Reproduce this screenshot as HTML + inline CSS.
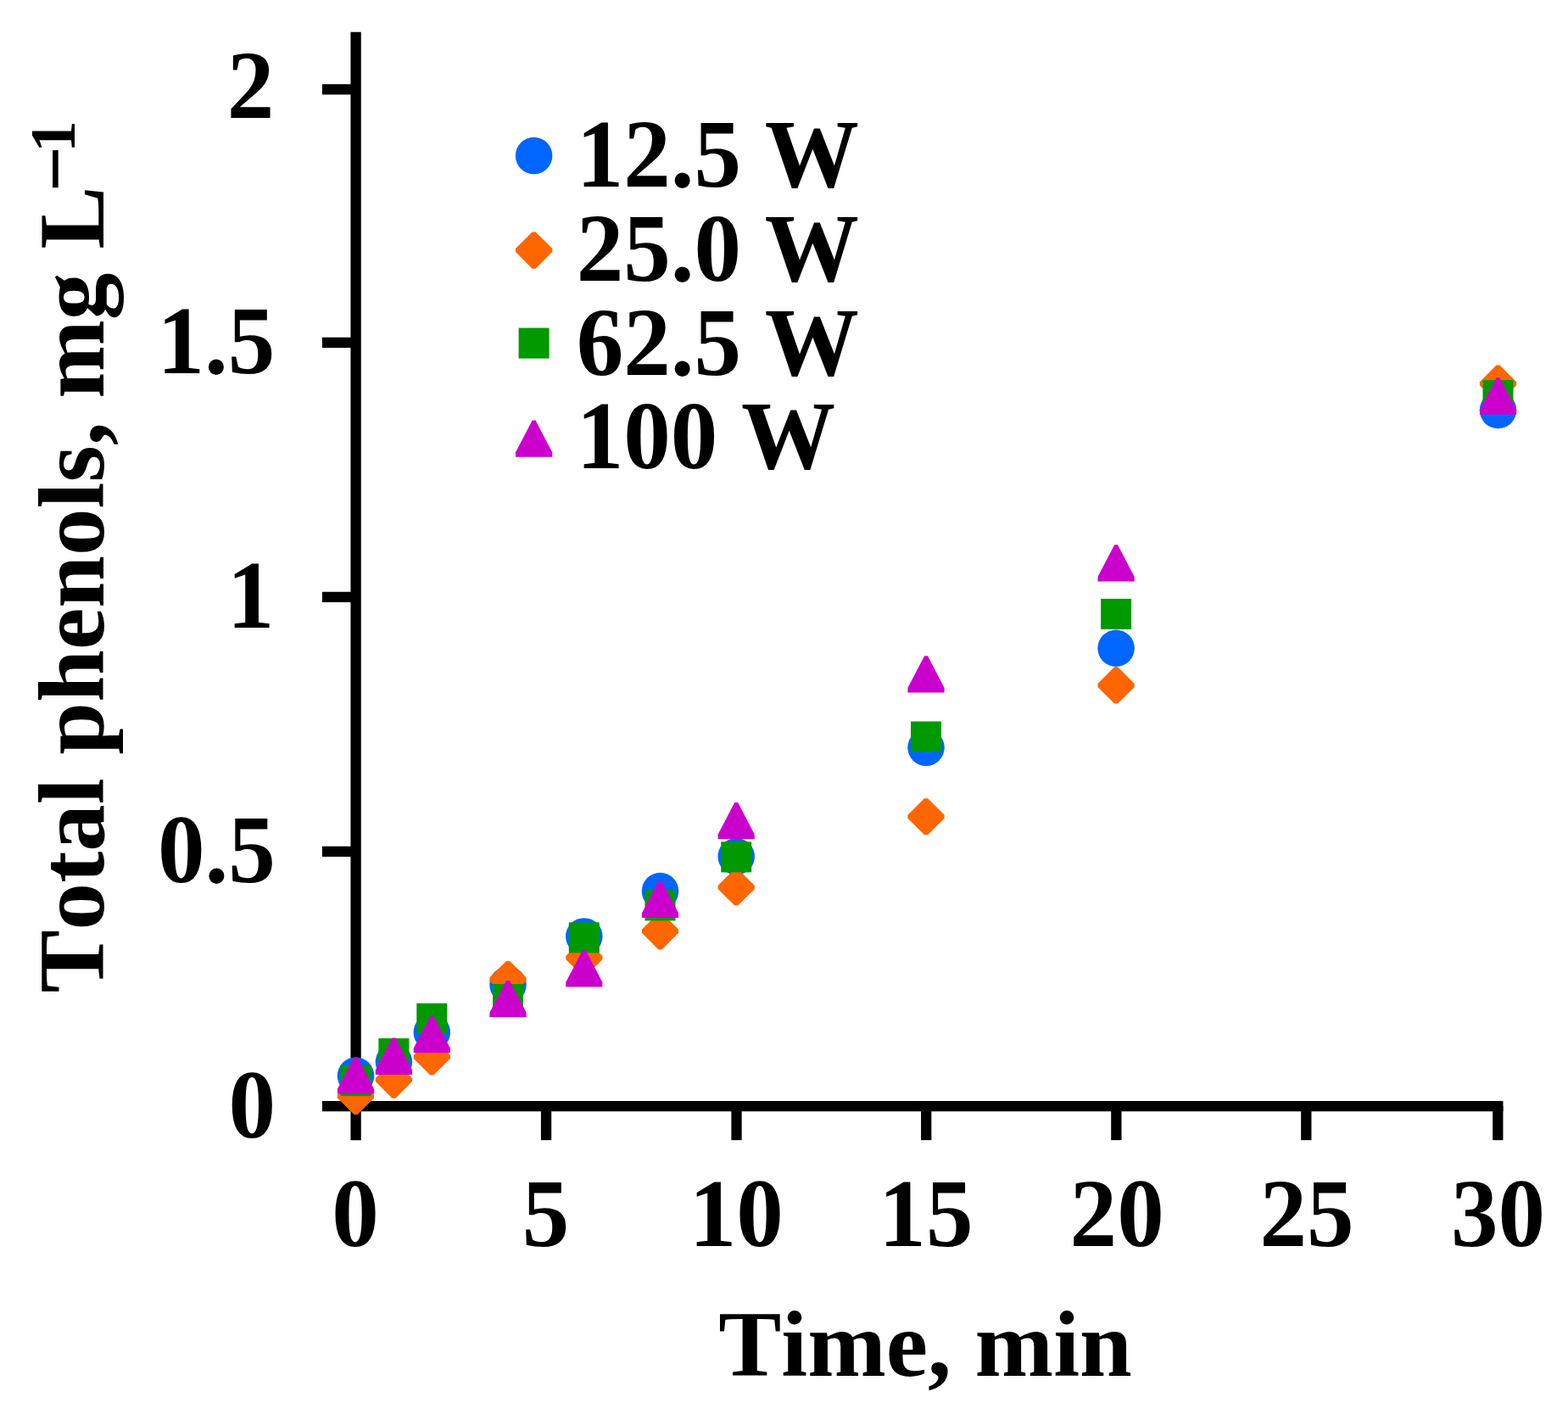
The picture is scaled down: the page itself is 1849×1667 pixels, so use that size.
<!DOCTYPE html>
<html lang="en">
<head>
<meta charset="utf-8">
<title>Total phenols vs time</title>
<style>
html,body{margin:0;padding:0;background:#fff;}
body{width:1849px;height:1667px;overflow:hidden;}
svg{display:block;}
text{font-family:"Liberation Serif","DejaVu Serif",serif;font-weight:bold;font-size:111.11px;fill:#000;font-kerning:none;font-feature-settings:"kern" 0,"liga" 0;}
.ax{stroke:#000;stroke-width:12.30;fill:none;stroke-linecap:butt;}
</style>
</head>
<body>
<svg width="1849" height="1667" viewBox="0 0 1849 1667">
<rect width="1849" height="1667" fill="#fff"/>
<g class="ax">
<path d="M419.60 37.8V1344.15"/>
<path d="M379.90 1304.05H1772.45"/>
<path d="M379.90 1003.85H419.60"/>
<path d="M379.90 703.80H419.60"/>
<path d="M379.90 403.90H419.60"/>
<path d="M379.90 105.35H419.60"/>
<path d="M644.05 1304.05V1344.15"/>
<path d="M868.50 1304.05V1344.15"/>
<path d="M1092.20 1304.05V1344.15"/>
<path d="M1316.35 1304.05V1344.15"/>
<path d="M1540.30 1304.05V1344.15"/>
<path d="M1766.30 1304.05V1344.15"/>
</g>
<g>
<text transform="translate(325.00 1341.20) scale(1 1.02)" text-anchor="end">0</text>
<text transform="translate(324.80 1040.40) scale(1 1.02)" text-anchor="end">0.5</text>
<text transform="translate(323.40 739.90) scale(1 1.02)" text-anchor="end">1</text>
<text transform="translate(324.40 440.00) scale(1 1.02)" text-anchor="end">1.5</text>
<text transform="translate(323.40 139.30) scale(1 1.02)" text-anchor="end">2</text>
</g>
<g>
<text transform="translate(418.90 1469.40) scale(1 1.02)" text-anchor="middle">0</text>
<text transform="translate(643.55 1469.40) scale(1 1.02)" text-anchor="middle">5</text>
<text transform="translate(868.20 1469.40) scale(1 1.02)" text-anchor="middle">10</text>
<text transform="translate(1091.90 1469.40) scale(1 1.02)" text-anchor="middle">15</text>
<text transform="translate(1317.15 1469.40) scale(1 1.02)" text-anchor="middle">20</text>
<text transform="translate(1541.10 1469.40) scale(1 1.02)" text-anchor="middle">25</text>
<text transform="translate(1766.50 1469.40) scale(1 1.02)" text-anchor="middle">30</text>
<text transform="translate(1091.00 1621.70) scale(1 1.0)" text-anchor="middle">Time, min</text>
</g>
<g>
<text transform="translate(121.6 1170.5) rotate(-90)">Total phenols, mg L<tspan x="944.15" y="-24.2" style="font-size:95px">−</tspan><tspan x="990.85" y="-33.3" style="font-size:75.4px">1</tspan></text>
</g>
<g>
<circle cx="419.50" cy="1268.20" r="21.75" fill="#0066ff"/>
<circle cx="464.40" cy="1252.00" r="21.75" fill="#0066ff"/>
<circle cx="509.30" cy="1217.00" r="21.75" fill="#0066ff"/>
<circle cx="599.00" cy="1161.00" r="21.75" fill="#0066ff"/>
<circle cx="688.80" cy="1103.90" r="21.75" fill="#0066ff"/>
<circle cx="778.50" cy="1050.60" r="21.75" fill="#0066ff"/>
<circle cx="868.20" cy="1009.75" r="21.75" fill="#0066ff"/>
<circle cx="1092.00" cy="881.30" r="21.75" fill="#0066ff"/>
<circle cx="1316.10" cy="764.25" r="21.75" fill="#0066ff"/>
<circle cx="1766.50" cy="483.50" r="21.75" fill="#0066ff"/>
<polygon points="417.50,1270.90 421.50,1270.90 441.10,1290.50 441.10,1294.50 421.50,1314.10 417.50,1314.10 397.90,1294.50 397.90,1290.50" fill="#ff6600"/>
<polygon points="462.40,1251.50 466.40,1251.50 486.00,1271.10 486.00,1275.10 466.40,1294.70 462.40,1294.70 442.80,1275.10 442.80,1271.10" fill="#ff6600"/>
<polygon points="507.30,1224.30 511.30,1224.30 530.90,1243.90 530.90,1247.90 511.30,1267.50 507.30,1267.50 487.70,1247.90 487.70,1243.90" fill="#ff6600"/>
<polygon points="597.00,1133.00 601.00,1133.00 620.60,1152.60 620.60,1156.60 601.00,1176.20 597.00,1176.20 577.40,1156.60 577.40,1152.60" fill="#ff6600"/>
<polygon points="686.80,1107.50 690.80,1107.50 710.40,1127.10 710.40,1131.10 690.80,1150.70 686.80,1150.70 667.20,1131.10 667.20,1127.10" fill="#ff6600"/>
<polygon points="776.50,1076.20 780.50,1076.20 800.10,1095.80 800.10,1099.80 780.50,1119.40 776.50,1119.40 756.90,1099.80 756.90,1095.80" fill="#ff6600"/>
<polygon points="866.20,1024.40 870.20,1024.40 889.80,1044.00 889.80,1048.00 870.20,1067.60 866.20,1067.60 846.60,1048.00 846.60,1044.00" fill="#ff6600"/>
<polygon points="1090.00,941.15 1094.00,941.15 1113.60,960.75 1113.60,964.75 1094.00,984.35 1090.00,984.35 1070.40,964.75 1070.40,960.75" fill="#ff6600"/>
<polygon points="1314.10,786.30 1318.10,786.30 1337.70,805.90 1337.70,809.90 1318.10,829.50 1314.10,829.50 1294.50,809.90 1294.50,805.90" fill="#ff6600"/>
<polygon points="1764.50,430.60 1768.50,430.60 1788.10,450.20 1788.10,454.20 1768.50,473.80 1764.50,473.80 1744.90,454.20 1744.90,450.20" fill="#ff6600"/>
<rect x="401.50" y="1256.20" width="36.00" height="36.00" fill="#009900"/>
<rect x="446.40" y="1224.10" width="36.00" height="36.00" fill="#009900"/>
<rect x="491.30" y="1182.80" width="36.00" height="36.00" fill="#009900"/>
<rect x="581.00" y="1160.00" width="36.00" height="36.00" fill="#009900"/>
<rect x="670.80" y="1087.40" width="36.00" height="36.00" fill="#009900"/>
<rect x="760.50" y="1049.40" width="36.00" height="36.00" fill="#009900"/>
<rect x="850.20" y="992.40" width="36.00" height="36.00" fill="#009900"/>
<rect x="1074.00" y="850.50" width="36.00" height="36.00" fill="#009900"/>
<rect x="1298.10" y="705.90" width="36.00" height="36.00" fill="#009900"/>
<rect x="1748.50" y="448.10" width="36.00" height="36.00" fill="#009900"/>
<polygon points="417.60,1246.15 421.40,1246.15 441.10,1283.95 441.10,1289.45 397.90,1289.45 397.90,1283.95" fill="#cc00cc"/>
<polygon points="462.50,1223.60 466.30,1223.60 486.00,1261.40 486.00,1266.90 442.80,1266.90 442.80,1261.40" fill="#cc00cc"/>
<polygon points="507.40,1197.90 511.20,1197.90 530.90,1235.70 530.90,1241.20 487.70,1241.20 487.70,1235.70" fill="#cc00cc"/>
<polygon points="597.10,1156.05 600.90,1156.05 620.60,1193.85 620.60,1199.35 577.40,1199.35 577.40,1193.85" fill="#cc00cc"/>
<polygon points="686.90,1120.25 690.70,1120.25 710.40,1158.05 710.40,1163.55 667.20,1163.55 667.20,1158.05" fill="#cc00cc"/>
<polygon points="776.60,1038.65 780.40,1038.65 800.10,1076.45 800.10,1081.95 756.90,1081.95 756.90,1076.45" fill="#cc00cc"/>
<polygon points="866.30,946.00 870.10,946.00 889.80,983.80 889.80,989.30 846.60,989.30 846.60,983.80" fill="#cc00cc"/>
<polygon points="1090.10,773.27 1093.90,773.27 1113.60,811.07 1113.60,816.57 1070.40,816.57 1070.40,811.07" fill="#cc00cc"/>
<polygon points="1314.20,642.23 1318.00,642.23 1337.70,680.02 1337.70,685.52 1294.50,685.52 1294.50,680.02" fill="#cc00cc"/>
<polygon points="1764.60,445.35 1768.40,445.35 1788.10,483.15 1788.10,488.65 1744.90,488.65 1744.90,483.15" fill="#cc00cc"/>
</g>
<g>
<circle cx="629.60" cy="183.60" r="21.75" fill="#0066ff"/>
<polygon points="627.60,273.50 631.60,273.50 651.20,293.10 651.20,297.10 631.60,316.70 627.60,316.70 608.00,297.10 608.00,293.10" fill="#ff6600"/>
<rect x="611.60" y="386.60" width="36.00" height="36.00" fill="#009900"/>
<polygon points="627.70,495.55 631.50,495.55 651.20,533.35 651.20,538.85 608.00,538.85 608.00,533.35" fill="#cc00cc"/>
<text transform="translate(679.70 219.80) scale(1 1.03)" text-anchor="start">12.5 W</text>
<text transform="translate(679.70 330.67) scale(1 1.03)" text-anchor="start">25.0 W</text>
<text transform="translate(679.70 441.54) scale(1 1.03)" text-anchor="start">62.5 W</text>
<text transform="translate(679.70 552.41) scale(1 1.03)" text-anchor="start">100 W</text>
</g>
</svg>
</body>
</html>
